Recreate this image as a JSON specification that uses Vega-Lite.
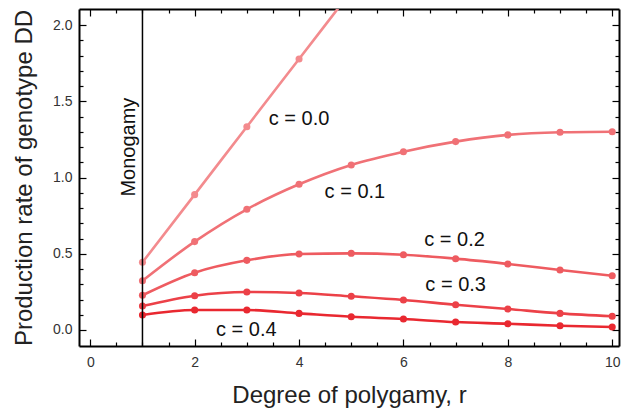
{
  "$schema": "https://vega.github.io/schema/vega-lite/v6.json",
  "width": 540,
  "height": 337,
  "autosize": "none",
  "padding": {"left": 79, "top": 9, "right": 2, "bottom": 67},
  "config": {"view": {"stroke": null}, "font": "Liberation Sans"},
  "datasets": {
    "curves": [
      {"c": "c = 0.0", "r": 1, "value": 0.444},
      {"c": "c = 0.0", "r": 2, "value": 0.888},
      {"c": "c = 0.0", "r": 3, "value": 1.334},
      {"c": "c = 0.0", "r": 4, "value": 1.778},
      {"c": "c = 0.0", "r": 5, "value": 2.222},
      {"c": "c = 0.1", "r": 1, "value": 0.323},
      {"c": "c = 0.1", "r": 2, "value": 0.58},
      {"c": "c = 0.1", "r": 3, "value": 0.792},
      {"c": "c = 0.1", "r": 4, "value": 0.956},
      {"c": "c = 0.1", "r": 5, "value": 1.083},
      {"c": "c = 0.1", "r": 6, "value": 1.17},
      {"c": "c = 0.1", "r": 7, "value": 1.236},
      {"c": "c = 0.1", "r": 8, "value": 1.28},
      {"c": "c = 0.1", "r": 9, "value": 1.297},
      {"c": "c = 0.1", "r": 10, "value": 1.301},
      {"c": "c = 0.2", "r": 1, "value": 0.228},
      {"c": "c = 0.2", "r": 2, "value": 0.376},
      {"c": "c = 0.2", "r": 3, "value": 0.457},
      {"c": "c = 0.2", "r": 4, "value": 0.499},
      {"c": "c = 0.2", "r": 5, "value": 0.503},
      {"c": "c = 0.2", "r": 6, "value": 0.494},
      {"c": "c = 0.2", "r": 7, "value": 0.468},
      {"c": "c = 0.2", "r": 8, "value": 0.433},
      {"c": "c = 0.2", "r": 9, "value": 0.394},
      {"c": "c = 0.2", "r": 10, "value": 0.356},
      {"c": "c = 0.3", "r": 1, "value": 0.157},
      {"c": "c = 0.3", "r": 2, "value": 0.225},
      {"c": "c = 0.3", "r": 3, "value": 0.249},
      {"c": "c = 0.3", "r": 4, "value": 0.243},
      {"c": "c = 0.3", "r": 5, "value": 0.221},
      {"c": "c = 0.3", "r": 6, "value": 0.197},
      {"c": "c = 0.3", "r": 7, "value": 0.166},
      {"c": "c = 0.3", "r": 8, "value": 0.138},
      {"c": "c = 0.3", "r": 9, "value": 0.109},
      {"c": "c = 0.3", "r": 10, "value": 0.09},
      {"c": "c = 0.4", "r": 1, "value": 0.098},
      {"c": "c = 0.4", "r": 2, "value": 0.131},
      {"c": "c = 0.4", "r": 3, "value": 0.131},
      {"c": "c = 0.4", "r": 4, "value": 0.109},
      {"c": "c = 0.4", "r": 5, "value": 0.087},
      {"c": "c = 0.4", "r": 6, "value": 0.072},
      {"c": "c = 0.4", "r": 7, "value": 0.052},
      {"c": "c = 0.4", "r": 8, "value": 0.041},
      {"c": "c = 0.4", "r": 9, "value": 0.028},
      {"c": "c = 0.4", "r": 10, "value": 0.02}
    ],
    "labels": [
      {"label": "c = 0.0", "r": 4.0, "value": 1.385},
      {"label": "c = 0.1", "r": 5.07, "value": 0.905},
      {"label": "c = 0.2", "r": 6.98, "value": 0.59},
      {"label": "c = 0.3", "r": 7.0, "value": 0.292},
      {"label": "c = 0.4", "r": 2.99, "value": 0.0}
    ],
    "mono": [{"label": "Monogamy", "r": 0.74, "value": 1.2, "line": 1}]
  },
  "layer": [
    {
      "data": {"name": "curves"},
      "mark": {"type": "line", "interpolate": "monotone", "strokeWidth": 2.6, "clip": true},
      "encoding": {
        "x": {
          "field": "r", "type": "quantitative",
          "scale": {"domain": [-0.216, 10.13], "nice": false, "zero": false},
          "axis": {
            "orient": "bottom",
            "values": [0,0.5,1,1.5,2,2.5,3,3.5,4,4.5,5,5.5,6,6.5,7,7.5,8,8.5,9,9.5,10],
            "labelExpr": "datum.value % 2 === 0 ? format(datum.value, 'd') : ''",
            "grid": false,
            "domainColor": "black", "domainWidth": 2,
            "tickColor": "black", "tickWidth": 1.2,
            "tickSize": {"condition": {"test": "datum.value % 2 === 0", "value": -7}, "value": -4},
            "labelPadding": 16,
            "labelFont": "Liberation Sans", "labelFontSize": 14, "labelColor": "#333",
            "title": "Degree of polygamy, r",
            "titleFont": "Liberation Sans", "titleFontSize": 24, "titleFontWeight": "normal", "titleColor": "#222",
            "titlePadding": 14
          }
        },
        "y": {
          "field": "value", "type": "quantitative",
          "scale": {"domain": [-0.105, 2.106], "nice": false, "zero": false},
          "axis": {
            "orient": "left",
            "values": [0,0.1,0.2,0.3,0.4,0.5,0.6,0.7,0.8,0.9,1,1.1,1.2,1.3,1.4,1.5,1.6,1.7,1.8,1.9,2],
            "labelExpr": "abs(datum.value*2 - round(datum.value*2)) < 1e-6 ? format(datum.value, '.1f') : ''",
            "grid": false,
            "domainColor": "black", "domainWidth": 2,
            "tickColor": "black", "tickWidth": 1.2,
            "tickSize": {"condition": {"test": "abs(datum.value*2 - round(datum.value*2)) < 1e-6", "value": -7}, "value": -4},
            "labelPadding": 14,
            "labelFont": "Liberation Sans", "labelFontSize": 14, "labelColor": "#333",
            "title": "Production rate of genotype DD",
            "titleFont": "Liberation Sans", "titleFontSize": 24, "titleFontWeight": "normal", "titleColor": "#222",
            "titlePadding": 16
          }
        },
        "color": {
          "field": "c", "type": "nominal",
          "scale": {"domain": ["c = 0.0","c = 0.1","c = 0.2","c = 0.3","c = 0.4"], "range": ["#f38b8e","#f07176","#ee5b60","#ec4148","#e92830"]},
          "legend": null
        }
      }
    },
    {
      "data": {"name": "curves"},
      "mark": {"type": "point", "filled": true, "size": 50, "opacity": 1, "clip": true},
      "encoding": {
        "x": {
          "field": "r", "type": "quantitative",
          "axis": {
            "orient": "top",
            "values": [0,0.5,1,1.5,2,2.5,3,3.5,4,4.5,5,5.5,6,6.5,7,7.5,8,8.5,9,9.5,10],
            "labels": false, "grid": false, "title": null,
            "domainColor": "black", "domainWidth": 2,
            "tickColor": "black", "tickWidth": 1.2,
            "tickSize": {"condition": {"test": "datum.value % 2 === 0", "value": -7}, "value": -4}
          }
        },
        "y": {
          "field": "value", "type": "quantitative",
          "axis": {
            "orient": "right",
            "values": [0,0.1,0.2,0.3,0.4,0.5,0.6,0.7,0.8,0.9,1,1.1,1.2,1.3,1.4,1.5,1.6,1.7,1.8,1.9,2],
            "labels": false, "grid": false, "title": null,
            "domainColor": "black", "domainWidth": 2,
            "tickColor": "black", "tickWidth": 1.2,
            "tickSize": {"condition": {"test": "abs(datum.value*2 - round(datum.value*2)) < 1e-6", "value": -7}, "value": -4}
          }
        },
        "color": {"field": "c", "type": "nominal", "legend": null}
      }
    },
    {
      "data": {"name": "mono"},
      "mark": {"type": "rule", "color": "black", "strokeWidth": 1.5},
      "encoding": {
        "x": {"field": "line", "type": "quantitative", "axis": null}
      }
    },
    {
      "data": {"name": "mono"},
      "mark": {"type": "text", "angle": 270, "align": "center", "baseline": "middle", "fontSize": 20, "font": "Liberation Sans", "color": "#111"},
      "encoding": {
        "x": {"field": "r", "type": "quantitative", "axis": null},
        "y": {"field": "value", "type": "quantitative", "axis": null},
        "text": {"field": "label"}
      }
    },
    {
      "data": {"name": "labels"},
      "mark": {"type": "text", "align": "center", "baseline": "middle", "fontSize": 20, "font": "Liberation Sans", "color": "#111"},
      "encoding": {
        "x": {"field": "r", "type": "quantitative", "axis": null},
        "y": {"field": "value", "type": "quantitative", "axis": null},
        "text": {"field": "label"}
      }
    }
  ],
  "resolve": {"axis": {"x": "independent", "y": "independent"}}
}
